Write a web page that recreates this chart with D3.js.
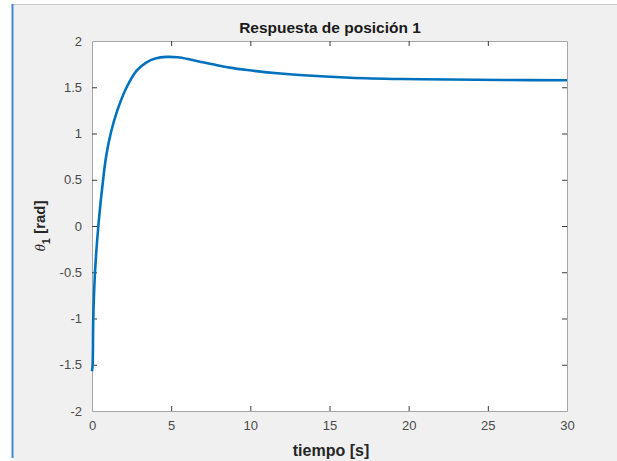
<!DOCTYPE html>
<html>
<head>
<meta charset="utf-8">
<script src="https://cdn.jsdelivr.net/npm/d3@7"></script>
<style>
  html, body { margin: 0; padding: 0; background: #ffffff; }
  svg { display: block; }
  text { font-family: "Liberation Sans", Arial, Helvetica, sans-serif; }
</style>
</head>
<body>
<svg id="chart" width="617" height="461"></svg>
<script>
// Step response of joint 1: time samples [s] and angle [rad]
const tiempo = [0, 0.04, 0.08, 0.19, 0.4, 0.7, 0.9, 1.18, 1.6, 2.19, 2.82, 3.45, 4.0, 4.7, 5.4, 6.2, 7.0, 7.7, 8.7, 9.8, 11.9, 13.1, 16.3, 19.5, 22.6, 26, 30];
const theta1 = [-1.57, -1.5, -1.0, -0.5, 0.0, 0.5, 0.76, 1.0, 1.25, 1.5, 1.68, 1.77, 1.81, 1.828, 1.824, 1.80, 1.77, 1.745, 1.712, 1.686, 1.648, 1.632, 1.603, 1.589, 1.583, 1.578, 1.575];

const xTicks = [0, 5, 10, 15, 20, 25, 30];
const yTicks = [-2, -1.5, -1, -0.5, 0, 0.5, 1, 1.5, 2];
const titulo = "Respuesta de posición 1";

const svg = d3.select("#chart");
const W = 617, H = 461;

// window frame
svg.append("rect").attr("x", 13).attr("y", 5).attr("width", W - 13).attr("height", H - 5)
  .attr("fill", "#f0f0f0");
svg.append("line").attr("x1", 13).attr("x2", W).attr("y1", 4.5).attr("y2", 4.5)
  .attr("stroke", "#c9c9c9").attr("stroke-width", 1);
svg.append("line").attr("x1", 12.5).attr("x2", 12.5).attr("y1", 4).attr("y2", 458)
  .attr("stroke", "#3a8ad6").attr("stroke-width", 2);

const L = 92, R = 567, T = 41, B = 411;
const x = d3.scaleLinear().domain([0, 30]).range([L, R]);
const y = d3.scaleLinear().domain([-2, 2]).range([B, T]);

svg.append("rect").attr("x", L).attr("y", T).attr("width", R - L).attr("height", B - T)
  .attr("fill", "#ffffff");

const axisColor = "#a6a6a6";
const labelColor = "#4a4a4a";
const tickLen = 5;

function styleAxis(g) {
  g.select(".domain").attr("stroke", axisColor).attr("stroke-width", 1);
  g.selectAll(".tick line").attr("stroke", "#3a3a3a").attr("stroke-width", 1);
  g.selectAll(".tick text").attr("fill", labelColor).attr("font-size", 13);
}

// bottom axis with labels, ticks pointing inward
const gx = svg.append("g").attr("transform", `translate(0,${B})`)
  .call(d3.axisBottom(x).tickValues(xTicks).tickFormat(d3.format("")).tickSizeInner(-tickLen).tickSizeOuter(0).tickPadding(10));
styleAxis(gx);

const gxt = svg.append("g").attr("transform", `translate(0,${T})`)
  .call(d3.axisTop(x).tickValues(xTicks).tickFormat("").tickSizeInner(-tickLen).tickSizeOuter(0));
styleAxis(gxt);

const gy = svg.append("g").attr("transform", `translate(${L},0)`)
  .call(d3.axisLeft(y).tickValues(yTicks).tickFormat(d => String(d)).tickSizeInner(-tickLen).tickSizeOuter(0).tickPadding(10));
styleAxis(gy);

const gyr = svg.append("g").attr("transform", `translate(${R},0)`)
  .call(d3.axisRight(y).tickValues(yTicks).tickFormat("").tickSizeInner(-tickLen).tickSizeOuter(0));
styleAxis(gyr);

// hide tick marks sitting on the box corners
[gx, gxt].forEach(g => g.selectAll(".tick line").filter(d => d === 0 || d === 30).remove());
[gy, gyr].forEach(g => g.selectAll(".tick line").filter(d => d === -2 || d === 2).remove());

// response curve
const pts = tiempo.map((t, i) => [t, theta1[i]]);
svg.append("path").datum(pts)
  .attr("fill", "none").attr("stroke", "#0072bd").attr("stroke-width", 2.6)
  .attr("stroke-linejoin", "round")
  .attr("d", d3.line().x(d => x(d[0])).y(d => y(d[1])).curve(d3.curveCatmullRom.alpha(0.5)));

// title
svg.append("text").attr("x", 330).attr("y", 33).attr("text-anchor", "middle")
  .attr("font-size", 15.5).attr("font-weight", "bold").attr("fill", "#1a1a1a").text(titulo);

// x label
svg.append("text").attr("x", 331).attr("y", 456).attr("text-anchor", "middle")
  .attr("font-size", 16).attr("font-weight", "bold").attr("fill", "#262626").text("tiempo [s]");

// y label
const yl = svg.append("text").attr("transform", `translate(45,${(T + B) / 2}) rotate(-90)`)
  .attr("text-anchor", "middle").attr("font-size", 15).attr("font-weight", "bold").attr("fill", "#262626");
yl.append("tspan").attr("font-style", "italic").attr("font-family", "'Liberation Serif', 'DejaVu Serif', serif").attr("font-weight", "normal").text("θ");
yl.append("tspan").attr("font-size", 11).attr("dy", 5).text("1");
yl.append("tspan").attr("dy", -5).text(" [rad]");
</script>
</body>
</html>
